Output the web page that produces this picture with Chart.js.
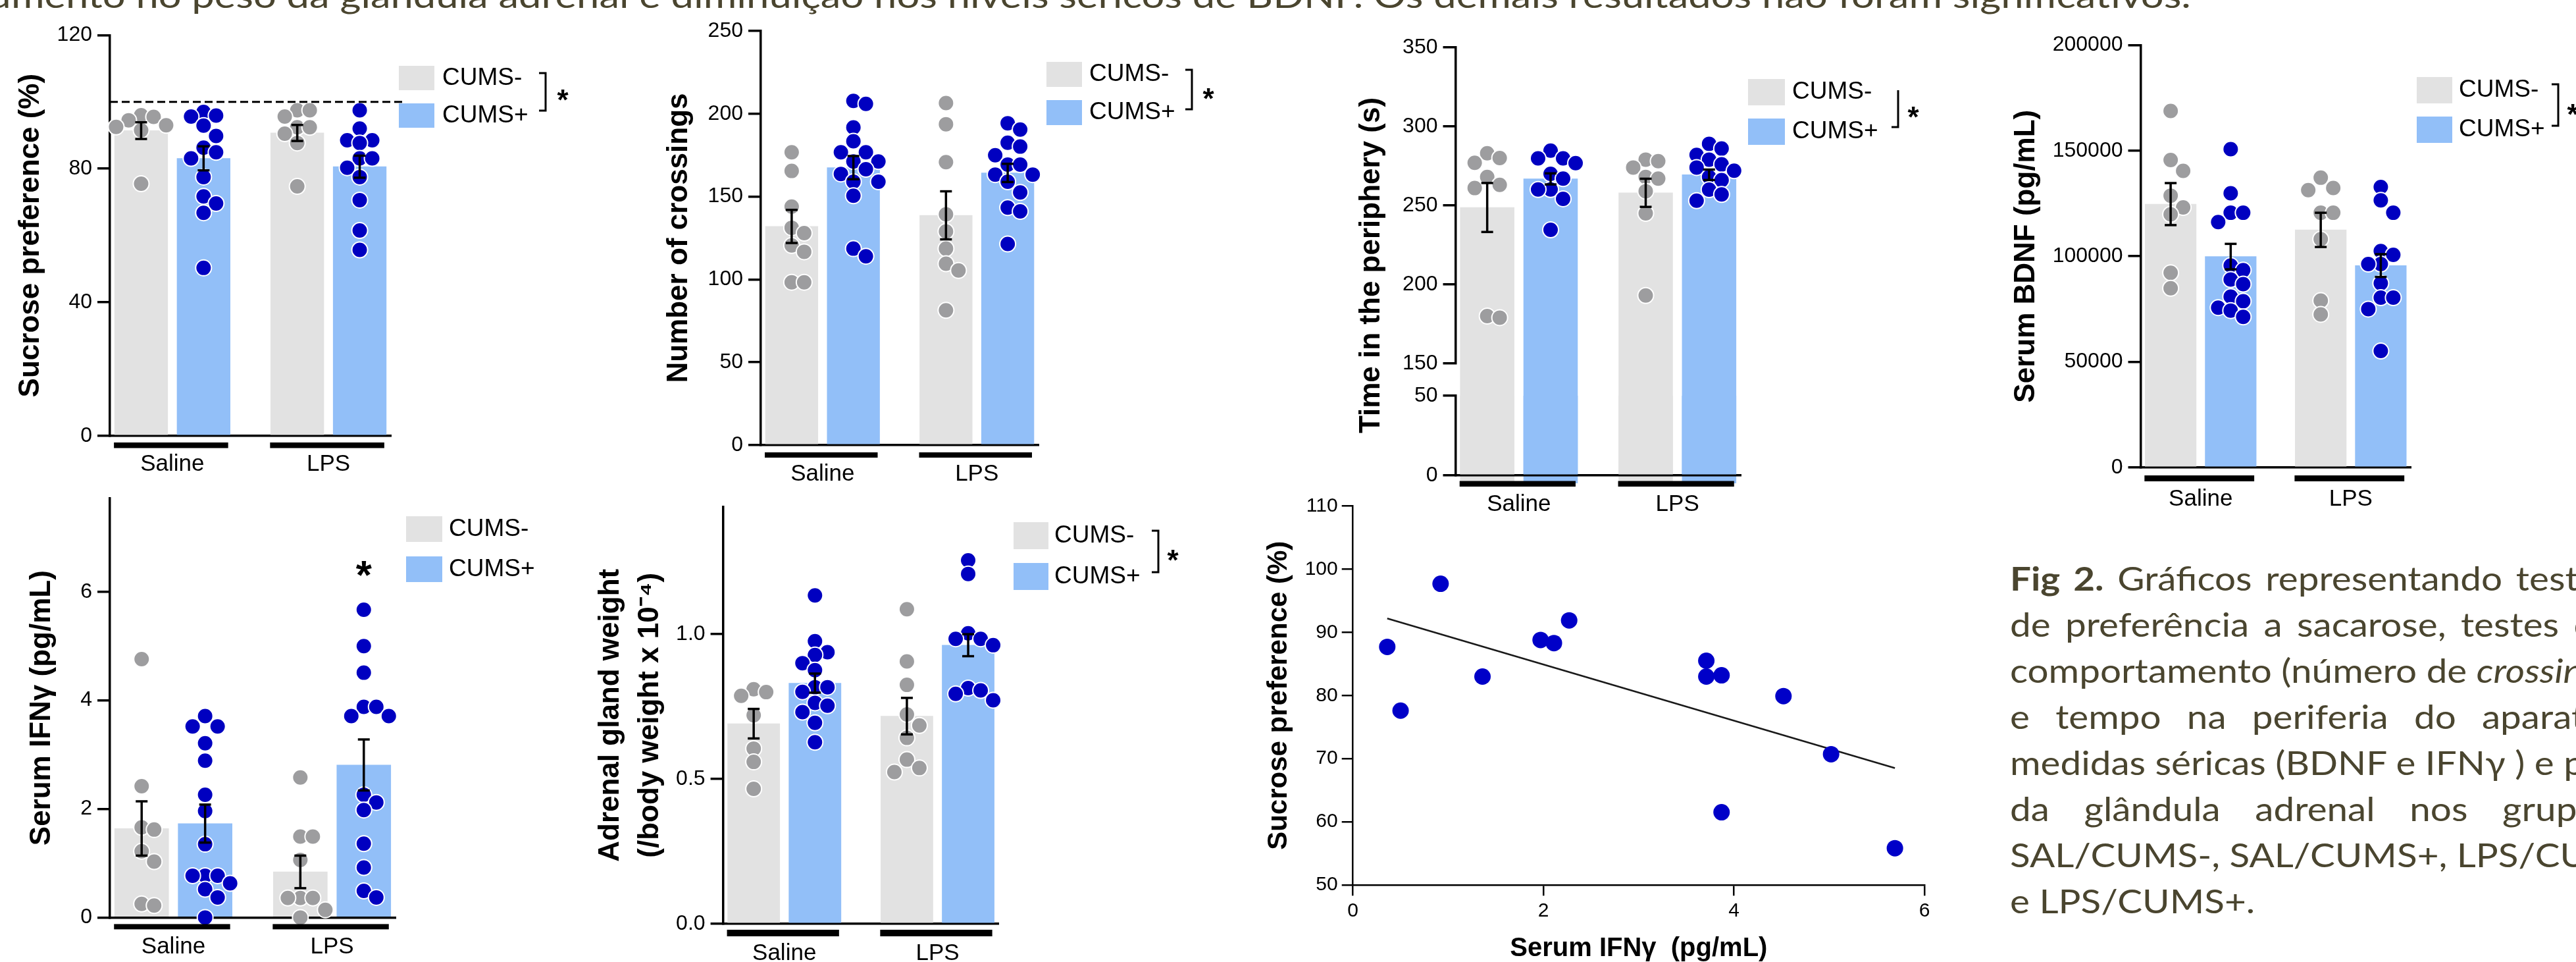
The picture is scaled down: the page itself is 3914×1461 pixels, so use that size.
<!DOCTYPE html>
<html>
<head>
<meta charset="UTF-8">
<title>Fig 2</title>
<script src="https://cdn.jsdelivr.net/npm/chart.js"></script>
<style>
  html, body { margin: 0; padding: 0; background: #fff; }
  body { width: 3914px; height: 1461px; position: relative; overflow: hidden; }
  canvas { position: absolute; }
  .txt { position: absolute; white-space: nowrap; font-family: Lato, "Open Sans", sans-serif; color: #4a452f;
         font-size: 50px; line-height: 50px; transform-origin: 0 0; }
  .bl { display: inline-block; width: 0; height: 0; vertical-align: baseline; }
</style>
</head>
<body>
<div id="title" class="txt"><span id="tpre">au</span><span id="tmain">mento no peso da glândula adrenal e diminuição nos níveis séricos de BDNF. Os demais resultados não foram significativos.</span><span class="bl"></span></div>

<script>
// ---------- data ----------
const groups = ['Saline', 'LPS'];
const seriesNames = ['CUMS-', 'CUMS+'];

// Sucrose preference (%)
const sucroseTicks = [0, 40, 80, 120];
const sucroseRef = 100;
const sucroseMeanMinus = [91.4, 90.7];
const sucroseMeanPlus = [83.1, 80.6];
const sucroseSemMinus = [2.5, 2.4];
const sucroseSemPlus = [3.6, 3.3];
const sucroseSalMinus = [96, 95.5, 94.5, 93, 92.5, 91.5, 75.5];
const sucroseSalPlus = [97, 95.9, 95.6, 92.9, 89.8, 86.3, 84.9, 83.1, 77.5, 71.7, 69.6, 66.8, 50.3];
const sucroseLpsMinus = [97.5, 97.5, 95.6, 92.4, 92.4, 90.5, 87.7, 74.7];
const sucroseLpsPlus = [97.5, 92.0, 88.5, 88.5, 87.7, 83.1, 83.1, 80.3, 77.5, 70.6, 61.5, 55.7];

// Number of crossings
const crossTicks = [0, 50, 100, 150, 200, 250];
const crossMeanMinus = [132, 138.7];
const crossMeanPlus = [167.5, 164.3];
const crossSemMinus = [10, 14.5];
const crossSemPlus = [7, 5.5];
const crossSalMinus = [176.8, 165.5, 144, 131.2, 128, 120.5, 116.7, 98.3, 98.3];
const crossSalPlus = [207.8, 206, 191.8, 183.4, 176.8, 176.8, 171.2, 171.2, 166.5, 163.7, 159, 159, 150.5, 118.6, 114];
const crossLpsMinus = [206.5, 193.7, 170.8, 139.3, 129, 118.6, 109.5, 105.4, 81.4];
const crossLpsPlus = [194.3, 190.5, 182.5, 180.2, 175, 169.3, 169.3, 163.3, 163.3, 159, 152.5, 143.4, 141.1, 121.4];

// Time in the periphery (s), broken axis
const periUpperTicks = [150, 200, 250, 300, 350];
const periLowerTicks = [0, 50];
const periMeanMinus = [248.7, 258];
const periMeanPlus = [266.8, 269.4];
const periSemMinus = [15.5, 8.9];
const periSemPlus = [3.5, 3.3];
const periSalMinus = [283, 280, 277, 268, 263, 261, 180, 179];
const periSalPlus = [284.7, 279.8, 279.8, 276.8, 270, 267, 260.1, 260.1, 254.2, 234.6];
const periLpsMinus = [279, 278, 274, 268, 267, 259, 245, 193];
const periLpsPlus = [289, 286, 282, 279, 276, 274, 272, 268, 266, 260, 257, 253];

// Serum BDNF (pg/mL)
const bdnfTicks = [0, 50000, 100000, 150000, 200000];
const bdnfMeanMinus = [124700, 112500];
const bdnfMeanPlus = [99850, 95600];
const bdnfSemMinus = [9950, 8100];
const bdnfSemPlus = [6025, 5400];
const bdnfSalMinus = [168800, 145600, 140400, 128700, 123100, 119850, 92200, 84850];
const bdnfSalPlus = [150700, 129850, 120600, 120600, 116200, 95600, 93400, 89000, 86800, 80900, 78700, 75700, 74300, 71300];
const bdnfLpsMinus = [137200, 132350, 131300, 120600, 120600, 108100, 79000, 72500];
const bdnfLpsPlus = [132800, 126500, 120600, 102500, 100700, 96300, 96300, 87200, 80400, 80400, 75000, 55150];

// Serum IFNγ (pg/mL)
const ifnTicks = [0, 2, 4, 6];
const ifnStarLevel = 6.5;
const ifnMeanMinus = [1.64, 0.84];
const ifnMeanPlus = [1.73, 2.81];
const ifnSemMinus = [0.5, 0.3];
const ifnSemPlus = [0.35, 0.47];
const ifnSalMinus = [4.76, 2.42, 1.66, 1.62, 1.22, 1.03, 0.25, 0.22];
const ifnSalPlus = [3.71, 3.52, 3.52, 3.21, 2.89, 2.26, 1.96, 1.35, 0.77, 0.77, 0.77, 0.63, 0.52, 0.37, 0.0];
const ifnLpsMinus = [2.58, 1.49, 1.49, 1.06, 0.36, 0.36, 0.36, 0.14, 0.0];
const ifnLpsPlus = [5.67, 5.0, 4.51, 3.88, 3.88, 3.71, 3.71, 2.26, 2.12, 1.98, 1.36, 0.92, 0.49, 0.37];

// Adrenal gland weight (/body weight x 10^-4)
const adrTicks = [0, 0.5, 1.0];
const adrMeanMinus = [0.691, 0.717];
const adrMeanPlus = [0.831, 0.962];
const adrSemMinus = [0.051, 0.063];
const adrSemPlus = [0.033, 0.038];
const adrSalMinus = [0.81, 0.80, 0.787, 0.72, 0.605, 0.559, 0.466];
const adrSalPlus = [1.134, 0.976, 0.938, 0.928, 0.9, 0.876, 0.817, 0.817, 0.801, 0.763, 0.753, 0.731, 0.694, 0.627];
const adrLpsMinus = [1.086, 0.906, 0.825, 0.723, 0.685, 0.642, 0.567, 0.538, 0.524];
const adrLpsPlus = [1.255, 1.208, 1.003, 0.984, 0.984, 0.962, 0.814, 0.806, 0.794, 0.772];

// Correlation: serum IFNγ vs sucrose preference
const scatterIfn = [0.36, 0.50, 0.92, 1.36, 1.97, 2.11, 2.27, 3.71, 3.71, 3.87, 3.87, 4.52, 5.02, 5.69];
const scatterSucrose = [87.7, 77.6, 97.7, 83.0, 88.8, 88.3, 91.9, 85.5, 83.0, 83.2, 61.5, 79.9, 70.7, 55.8];
const fitIfn = [0.36, 5.69];
const fitSucrose = [92.2, 68.5];
const scatterXTicks = [0, 2, 4, 6];
const scatterYTicks = [50, 60, 70, 80, 90, 100, 110];

// ---------- look ----------
const FONT = '"Liberation Sans", Arial, sans-serif';
const BAR_COLORS = ['#e2e2e2', '#92bff8'];
const DOT_COLORS = ['#9d9d9f', '#0000c0'];
const TICK_FONT = 32, LABEL_FONT = 35, LEGEND_FONT = 37, TITLE_FONT = 44;
const X_MIN = -0.4, X_MAX = 1.4;   // groups sit at 0 and 1
const GROUP_OFF = 0.2;             // bar centre offset from group centre
const BAR_W = 0.34;                // bar width, x units

Chart.defaults.font.family = FONT;
Chart.defaults.color = '#000';

function addCanvas(left, top, width, height) {
  const c = document.createElement('canvas');
  c.width = width; c.height = height;
  Object.assign(c.style, { left: left + 'px', top: top + 'px', width: width + 'px', height: height + 'px' });
  document.body.appendChild(c);
  return c;
}

// simple beeswarm: spread equal-ish values sideways
function swarm(values, centre, pxX, pxY) {
  const STEP = 19, MIN_D = 19;
  const order = values.map((v, i) => i).sort((a, b) => values[b] - values[a]);
  const placed = [], out = [];
  for (const i of order) {
    const py = values[i] * pxY;
    let best = 0, bestD = -1;
    for (const k of [0, 1, -1, 2, -2, 3, -3]) {
      const px = k * STEP;
      let d = Infinity;
      for (const q of placed) d = Math.min(d, Math.hypot(q[0] - px, q[1] - py));
      if (d >= MIN_D) { best = px; break; }
      if (d > bestD) { bestD = d; best = px; }
    }
    placed.push([best, py]);
    out[i] = centre + best / pxX;
  }
  return out;
}

function star(ctx, x, y, size) {
  ctx.font = `bold ${size}px ${FONT}`;
  ctx.textAlign = 'center';
  ctx.textBaseline = 'alphabetic';
  ctx.fillStyle = '#000';
  ctx.fillText('*', x, y + 0.58 * size);
}

function decor(p) {
  return {
    id: 'decor',
    afterDraw(chart) {
      const ctx = chart.ctx, xs = chart.scales.x, ys = chart.scales.y, area = chart.chartArea;
      const ox = p.left, oy = p.top;
      ctx.save();
      if (p.underline) {
        const half = BAR_W * (xs.getPixelForValue(1) - xs.getPixelForValue(0)) / 2;
        ctx.fillStyle = '#000';
        groups.forEach((g, i) => {
          const a = xs.getPixelForValue(i - GROUP_OFF) - half - 1;
          const b = xs.getPixelForValue(i + GROUP_OFF) + half - 3;
          ctx.fillRect(a, area.bottom + p.underline[0], b - a, p.underline[1]);
        });
      }
      if (p.refLine) {
        const y = ys.getPixelForValue(p.refLine.value);
        ctx.setLineDash([12, 6]);
        ctx.lineWidth = 3;
        ctx.strokeStyle = '#000';
        ctx.beginPath(); ctx.moveTo(area.left, y); ctx.lineTo(p.refLine.x2 - ox, y); ctx.stroke();
        ctx.setLineDash([]);
      }
      if (p.legend) {
        const L = p.legend;
        seriesNames.forEach((name, s) => {
          ctx.fillStyle = BAR_COLORS[s];
          ctx.fillRect(L.x - ox, L.ys[s] - oy, L.w, L.h);
          ctx.fillStyle = '#000';
          ctx.font = `${LEGEND_FONT}px ${FONT}`;
          ctx.textAlign = 'left';
          ctx.textBaseline = 'middle';
          ctx.fillText(name, L.textX - ox, L.ys[s] + L.h / 2 - oy);
        });
        if (L.bracket) {
          const B = L.bracket;
          ctx.strokeStyle = '#000'; ctx.lineWidth = 3;
          ctx.beginPath();
          if (B.top) { ctx.moveTo(B.x - 10 - ox, B.y1 - oy); ctx.lineTo(B.x - ox, B.y1 - oy); }
          else ctx.moveTo(B.x - ox, B.y1 - oy);
          ctx.lineTo(B.x - ox, B.y2 - oy);
          ctx.lineTo(B.x - 10 - ox, B.y2 - oy);
          ctx.stroke();
        }
        if (L.star) star(ctx, L.star[0] - ox, L.star[1] - oy, 44);
      }
      if (p.dataStar) star(ctx, xs.getPixelForValue(p.dataStar.x), ys.getPixelForValue(p.dataStar.y), 62);
      ctx.restore();
    }
  };
}

function barPanel(p) {
  const canvas = addCanvas(p.left, p.top, p.width, p.height);
  const pxX = (p.plotRight - p.axisX) / (X_MAX - X_MIN);
  const pxY = (p.plotBottom - p.plotTop) / (p.yMax - p.yMin);
  const offs = [-GROUP_OFF, GROUP_OFF];
  const datasets = [];
  for (let s = 0; s < 2; s++) {
    datasets.push({
      type: 'bar',
      data: groups.map((g, i) => ({ x: i + offs[s], y: p.means[s][i] })),
      backgroundColor: BAR_COLORS[s],
      barThickness: BAR_W * pxX,
      grouped: false,
      order: 3,
      clip: p.clipBars ? 0 : false
    });
    if (p.points) {
      groups.forEach((g, i) => {
        const vals = p.points[s][i];
        const xs = swarm(vals, i + offs[s], pxX, pxY);
        datasets.push({
          type: 'scatter',
          data: vals.map((v, k) => ({ x: xs[k], y: v })),
          pointRadius: 12,
          pointBackgroundColor: DOT_COLORS[s],
          pointBorderColor: '#fff',
          pointBorderWidth: 2,
          order: 2,
          clip: false
        });
      });
    }
    if (p.sems) {
      groups.forEach((g, i) => {
        const m = p.means[s][i], e = p.sems[s][i];
        datasets.push({
          type: 'line',
          data: [{ x: i + offs[s], y: m - e }, { x: i + offs[s], y: m + e }],
          borderColor: '#000',
          borderWidth: 3.5,
          pointStyle: 'line',
          pointRadius: 9,
          pointBorderColor: '#000',
          pointBorderWidth: 3.5,
          order: 1,
          clip: false
        });
      });
    }
  }

  const lhY = TITLE_FONT * (p.titleLH || 1.2);
  let titlePluginWidth = 0;
  const pluginsOpt = { legend: { display: false }, tooltip: { enabled: false } };
  if (p.sideTitle) {
    const pt = p.titleX - p.left - TITLE_FONT * 0.6;
    titlePluginWidth = TITLE_FONT * 1.2 + pt;
    pluginsOpt.title = { display: true, position: 'left', text: p.sideTitle, color: '#000',
      font: { size: TITLE_FONT, weight: 'bold' }, padding: { top: pt, bottom: 0 } };
  }

  const yCfg = {
    type: 'linear', min: p.yMin, max: p.yMax,
    afterBuildTicks: a => { a.ticks = p.yTicks.map(v => ({ value: v })); },
    afterFit: a => { a.width = p.axisX - p.left - titlePluginWidth; },
    ticks: { font: { size: TICK_FONT }, color: '#000', padding: 8,
      callback: v => (p.fmt ? p.fmt(v) : String(v)) },
    grid: { drawOnChartArea: false, color: '#000', lineWidth: 3.5, tickLength: 19 },
    border: { color: '#000', width: 3.5 }
  };
  if (p.title) {
    yCfg.title = { display: true, text: p.title, color: '#000',
      font: { size: TITLE_FONT, weight: 'bold', lineHeight: p.titleLH || 1.2 },
      padding: { top: p.titleX - p.left - lhY / 2, bottom: 0 } };
  }

  const showX = !!p.labelY;
  const xCfg = {
    type: 'linear', min: X_MIN, max: X_MAX, offset: false,
    afterBuildTicks: a => { a.ticks = groups.map((g, i) => ({ value: i })); },
    afterFit: a => { a.height = p.top + p.height - p.plotBottom; },
    ticks: { display: showX, autoSkip: false, maxRotation: 0, minRotation: 0,
      font: { size: LABEL_FONT }, color: '#000',
      padding: showX ? p.labelY - p.plotBottom - LABEL_FONT * 0.6 : 0,
      callback: v => groups[v] },
    grid: { display: false, drawTicks: false, offset: false },
    border: { display: showX, color: '#000', width: 3.5 }
  };

  new Chart(canvas, {
    type: 'bar',
    data: { datasets },
    options: {
      responsive: false, animation: false, events: [], devicePixelRatio: 1,
      layout: { padding: { top: p.plotTop - p.top, right: p.left + p.width - p.plotRight, left: 0, bottom: 0 } },
      plugins: pluginsOpt,
      scales: { x: xCfg, y: yCfg }
    },
    plugins: [decor(p)]
  });
}

function scatterPanel(p) {
  const canvas = addCanvas(p.left, p.top, p.width, p.height);
  const yTitle = 42, xTitle = 40, tickF = 30;
  new Chart(canvas, {
    type: 'scatter',
    data: {
      datasets: [
        { data: scatterIfn.map((x, i) => ({ x, y: scatterSucrose[i] })),
          pointRadius: 12.5, pointBackgroundColor: '#0000c8', pointBorderWidth: 0, order: 0, clip: false },
        { type: 'line', data: fitIfn.map((x, i) => ({ x, y: fitSucrose[i] })),
          borderColor: '#1a1a1a', borderWidth: 2.5, pointRadius: 0, order: 1 }
      ]
    },
    options: {
      responsive: false, animation: false, events: [], devicePixelRatio: 1,
      layout: { padding: { top: p.plotTop - p.top, right: p.left + p.width - p.plotRight, left: 0, bottom: 0 } },
      plugins: { legend: { display: false }, tooltip: { enabled: false } },
      scales: {
        x: {
          type: 'linear', min: 0, max: 6,
          afterBuildTicks: a => { a.ticks = scatterXTicks.map(v => ({ value: v })); },
          afterFit: a => { a.height = p.top + p.height - p.plotBottom; },
          ticks: { font: { size: tickF }, color: '#000', maxRotation: 0,
            padding: p.xLabelY - p.plotBottom - 16.5 - tickF * 0.6 },
          grid: { drawOnChartArea: false, color: '#000', lineWidth: 2.5, tickLength: 16.5 },
          border: { color: '#000', width: 2.5 },
          title: { display: true, text: 'Serum IFNγ  (pg/mL)', color: '#000',
            font: { size: xTitle, weight: 'bold' },
            padding: { top: 0, bottom: p.top + p.height - p.xTitleY - xTitle * 0.6 } }
        },
        y: {
          type: 'linear', min: 50, max: 110,
          afterBuildTicks: a => { a.ticks = scatterYTicks.map(v => ({ value: v })); },
          afterFit: a => { a.width = p.axisX - p.left; },
          ticks: { font: { size: tickF }, color: '#000', padding: 6 },
          grid: { drawOnChartArea: false, color: '#000', lineWidth: 2.5, tickLength: 17 },
          border: { color: '#000', width: 2.5 },
          title: { display: true, text: 'Sucrose preference (%)', color: '#000',
            font: { size: yTitle, weight: 'bold' },
            padding: { top: p.titleX - p.left - yTitle * 0.6, bottom: 0 } }
        }
      }
    }
  });
}

// ---------- panels ----------
barPanel({
  left: 0, top: 10, width: 900, height: 740,
  axisX: 167, plotTop: 53.3, plotBottom: 662, plotRight: 594,
  yMin: 0, yMax: 120, yTicks: sucroseTicks,
  title: 'Sucrose preference (%)', titleX: 46.5, labelY: 705.5,
  means: [sucroseMeanMinus, sucroseMeanPlus], sems: [sucroseSemMinus, sucroseSemPlus],
  points: [[sucroseSalMinus, sucroseLpsMinus], [sucroseSalPlus, sucroseLpsPlus]],
  legend: { x: 606, ys: [100, 157], w: 54, h: 37, textX: 672,
    bracket: { x: 829, y1: 111, y2: 168, top: true }, star: [855, 141] },
  underline: [10, 8.5], refLine: { value: sucroseRef, x2: 611 }
});

barPanel({
  left: 960, top: 10, width: 900, height: 750,
  axisX: 1156, plotTop: 47, plotBottom: 676, plotRight: 1578,
  yMin: 0, yMax: 250, yTicks: crossTicks,
  title: 'Number of crossings', titleX: 1031.5, labelY: 720,
  means: [crossMeanMinus, crossMeanPlus], sems: [crossSemMinus, crossSemPlus],
  points: [[crossSalMinus, crossLpsMinus], [crossSalPlus, crossLpsPlus]],
  legend: { x: 1590, ys: [94, 152], w: 54, h: 38, textX: 1655,
    bracket: { x: 1811, y1: 106, y2: 166, top: true }, star: [1836, 139] },
  underline: [11, 8]
});

// broken axis: upper part
barPanel({
  left: 1960, top: 10, width: 980, height: 724,
  axisX: 2211.5, plotTop: 72, plotBottom: 552, plotRight: 2645,
  yMin: 150, yMax: 350, yTicks: periUpperTicks,
  sideTitle: 'Time in the periphery (s)', titleX: 2084,
  means: [periMeanMinus, periMeanPlus], sems: [periSemMinus, periSemPlus],
  points: [[periSalMinus, periLpsMinus], [periSalPlus, periLpsPlus]],
  legend: { x: 2656, ys: [120, 180], w: 56, h: 40, textX: 2723,
    bracket: { x: 2884, y1: 137, y2: 193, top: false }, star: [2907, 167] }
});
// broken axis: lower part
barPanel({
  left: 1960, top: 560, width: 980, height: 240,
  axisX: 2211.5, plotTop: 601, plotBottom: 722, plotRight: 2645,
  yMin: 0, yMax: 50, yTicks: periLowerTicks, labelY: 766, clipBars: true,
  means: [periMeanMinus, periMeanPlus],
  underline: [8.5, 8.5]
});

barPanel({
  left: 2930, top: 10, width: 984, height: 790,
  axisX: 3252.5, plotTop: 68.4, plotBottom: 710, plotRight: 3663,
  yMin: 0, yMax: 200000, yTicks: bdnfTicks,
  title: 'Serum BDNF (pg/mL)', titleX: 3079, labelY: 758,
  means: [bdnfMeanMinus, bdnfMeanPlus], sems: [bdnfSemMinus, bdnfSemPlus],
  points: [[bdnfSalMinus, bdnfLpsMinus], [bdnfSalPlus, bdnfLpsPlus]],
  legend: { x: 3672, ys: [117, 177], w: 54, h: 40, textX: 3736,
    bracket: { x: 3887, y1: 128, y2: 191, top: true }, star: [3909, 163] },
  underline: [12, 9]
});

barPanel({
  left: 0, top: 715, width: 880, height: 746,
  axisX: 167, plotTop: 757, plotBottom: 1393.4, plotRight: 601,
  yMin: 0, yMax: 7.72, yTicks: ifnTicks,
  title: 'Serum IFNγ (pg/mL)', titleX: 64, labelY: 1438,
  means: [ifnMeanMinus, ifnMeanPlus], sems: [ifnSemMinus, ifnSemPlus],
  points: [[ifnSalMinus, ifnLpsMinus], [ifnSalPlus, ifnLpsPlus]],
  legend: { x: 617, ys: [784, 845], w: 55, h: 39, textX: 682 },
  dataStar: { x: 1 + GROUP_OFF, y: ifnStarLevel },
  underline: [10, 8]
});

barPanel({
  left: 880, top: 715, width: 960, height: 765,
  axisX: 1098.6, plotTop: 769.6, plotBottom: 1403, plotRight: 1517.6,
  yMin: 0, yMax: 1.44, yTicks: adrTicks, fmt: v => v.toFixed(1),
  title: ['Adrenal gland weight', '(/body weight x 10⁻⁴)'], titleX: 928, titleLH: 60 / 44, labelY: 1448,
  means: [adrMeanMinus, adrMeanPlus], sems: [adrSemMinus, adrSemPlus],
  points: [[adrSalMinus, adrLpsMinus], [adrSalPlus, adrLpsPlus]],
  legend: { x: 1540, ys: [793, 855], w: 53, h: 41, textX: 1602,
    bracket: { x: 1760, y1: 806, y2: 869, top: true }, star: [1782, 840] },
  underline: [9, 10]
});

scatterPanel({
  left: 1900, top: 715, width: 1100, height: 765,
  axisX: 2055.7, plotTop: 768.7, plotBottom: 1343.8, plotRight: 2924,
  titleX: 1943.5, xTitleY: 1440.7, xLabelY: 1384
});

// ---------- running text (title fragment and caption) ----------
const TITLE_X = 17, TITLE_W = 3312, TITLE_BASE = 12;
const CAP_X = 3054, CAP_BASE = 897, CAP_LH = 70, CAP_W = 918, CAP_NARROW = 0.92;
const captionLines = [
  '<b>Fig 2.</b> Gráficos representando testes',
  'de preferência a sacarose, testes de',
  'comportamento (número de <i>crossings</i>)',
  'e tempo na periferia do aparato,',
  'medidas séricas (BDNF e IFNγ ) e peso',
  'da glândula adrenal nos grupos',
  'SAL/CUMS-, SAL/CUMS+, LPS/CUMS-',
  'e LPS/CUMS+.'
];

function placeText() {
  const title = document.getElementById('title');
  title.style.transform = 'none';
  const s = TITLE_W / document.getElementById('tmain').getBoundingClientRect().width;
  const preW = document.getElementById('tpre').getBoundingClientRect().width;
  const base = title.querySelector('.bl').offsetTop;
  title.style.left = (TITLE_X - preW * s) + 'px';
  title.style.top = (TITLE_BASE - base) + 'px';
  title.style.transform = `scaleX(${s})`;

  const sc = s * CAP_NARROW;
  document.querySelectorAll('.cap').forEach(n => n.remove());
  captionLines.forEach((html, i) => {
    const d = document.createElement('div');
    d.className = 'txt cap';
    d.innerHTML = html + '<span class="bl"></span>';
    d.style.width = (CAP_W / sc) + 'px';
    const last = i === captionLines.length - 1;
    d.style.textAlign = last ? 'left' : 'justify';
    d.style.textAlignLast = last ? 'left' : 'justify';
    document.body.appendChild(d);
    const b = d.querySelector('.bl').offsetTop;
    d.style.left = CAP_X + 'px';
    d.style.top = (CAP_BASE + i * CAP_LH - b) + 'px';
    d.style.transform = `scaleX(${sc})`;
  });
}
placeText();
if (document.fonts && document.fonts.ready) document.fonts.ready.then(placeText);
</script>
</body>
</html>
